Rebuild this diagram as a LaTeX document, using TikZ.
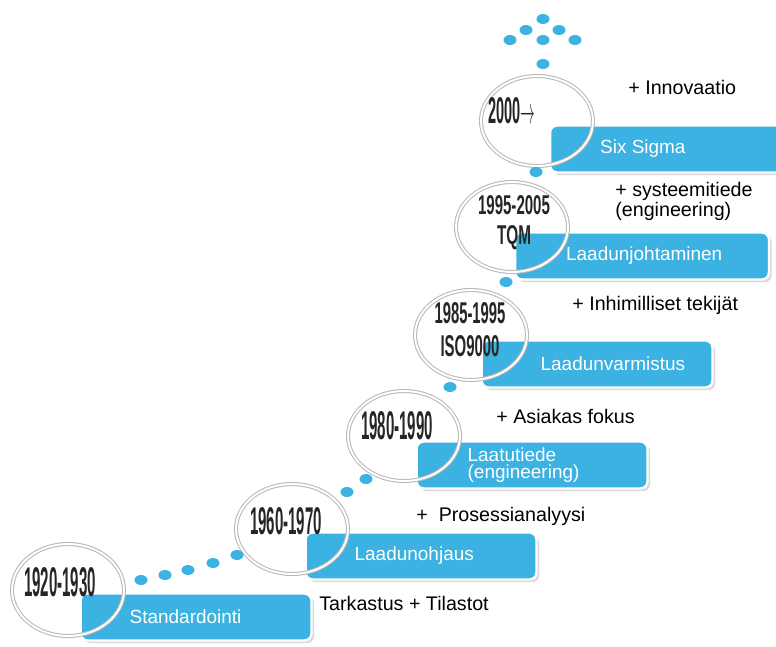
\documentclass[tikz,border=0pt]{standalone}
\usepackage{fontspec}
\setmainfont{Liberation Sans}
\usepackage{graphicx}
\usetikzlibrary{positioning,shapes.geometric,shadows}
\definecolor{stepblue}{RGB}{59,178,226}
\definecolor{ringgray}{RGB}{185,185,185}
% condensed year text
\newcommand{\yr}[3]{\resizebox{#1}{#2}{\bfseries #3}}

\begin{document}
\begin{tikzpicture}[x=0.02cm, y=-0.02cm,
    stagebox/.style={rectangle, rounded corners=4pt, fill=stepblue, draw=white,
      line width=1.4pt, minimum width=4.62cm, minimum height=0.94cm,
      drop shadow={opacity=0.3, shadow xshift=1.5pt, shadow yshift=-1.5pt}},
    stagetext/.style={text=white, inner sep=0pt, align=left,
      font=\fontsize{10.8}{9.5}\selectfont},
    ring/.style={ellipse, draw=ringgray, double=white, double distance=1.1pt,
      line width=0.6pt, minimum width=2.24cm, minimum height=1.8cm},
    bead/.style={ellipse, fill=stepblue, inner sep=0pt,
      minimum width=0.26cm, minimum height=0.2cm},
    note/.style={anchor=west, inner sep=0pt, align=left,
      font=\fontsize{11.2}{9.5}\selectfont},
    year/.style={inner sep=0pt, text=black!85}
  ]
  \useasboundingbox (0,0) rectangle (776,646);

  % steps
  \node[stagebox] (b1) at (196,617) {};
  \node[stagebox] (b2) at (421,556) {};
  \node[stagebox] (b3) at (532,465) {};
  \node[stagebox] (b4) at (597,364) {};
  \node[stagebox, minimum width=5.08cm] (b5) at (642,256) {};
  \node[stagebox, minimum width=5.0cm] (b6) at (675,149) {};

  % rings round the years
  \node[ring, minimum height=1.84cm] (c1) at (68,590) {};
  \node[ring] (c2) at (292,529) {};
  \node[ring] (c3) at (404,436) {};
  \node[ring] (c4) at (471,335) {};
  \node[ring] (c5) at (512,227) {};
  \node[ring] (c6) at (537,121) {};

  % dotted path and arrow head
  \foreach \x/\y in {141/580, 165/575, 188/570, 213/563, 237/555,
                     347/492, 366/479, 450/387, 506/282, 536/172,
                     543/64, 510/40, 543/40, 575/40, 526/30, 559/30, 543/19}
    \node[bead] at (\x,\y) {};

  % years
  \node[year] (y1) at (60,582) {\yr{1.44cm}{0.58cm}{1920-1930}};
  \node[year] (y2) at (286,521) {\yr{1.44cm}{0.54cm}{1960-1970}};
  \node[year] (y3) at (397,426) {\yr{1.44cm}{0.56cm}{1980-1990}};
  \node[year] (y4) at (470,313) {\yr{1.42cm}{0.42cm}{1985-1995}};
  \node[year] (y4b) at (470,346) {\yr{1.18cm}{0.42cm}{ISO9000}};
  \node[year] (y5) at (514,205) {\yr{1.44cm}{0.38cm}{1995-2005}};
  \node[year] (y5b) at (514,238) {\yr{0.68cm}{0.38cm}{TQM}};
  \node[year] (y6) at (512,111) {\yr{0.94cm}{0.52cm}{2000$\rightarrow$}};

  % step names
  \node[stagetext, right=1cm of b1.west] (t1) {Standardointi};
  \node[stagetext, right=1cm of b2.west] (t2) {Laadunohjaus};
  \node[stagetext, right=1.04cm of b3.west] (t3) {Laatutiede\\(engineering)};
  \node[stagetext, right=1.2cm of b4.west] (t4) {Laadunvarmistus};
  \node[stagetext, right=1.04cm of b5.west] (t5) {Laadunjohtaminen};
  \node[stagetext, right=1.02cm of b6.west] (t6) {Six Sigma};

  % additions
  \node[note] (n1) at (319,603) {Tarkastus + Tilastot};
  \node[note] (n2) at (416,516) {+\ \ Prosessianalyysi};
  \node[note] (n3) at (496,416) {+ Asiakas fokus};
  \node[note] (n4) at (572,305) {+ Inhimilliset tekijät};
  \node[note] (n5) at (615,201) {+ systeemitiede\\(engineering)};
  \node[note] (n6) at (628,87) {+ Innovaatio};
\end{tikzpicture}
\end{document}
